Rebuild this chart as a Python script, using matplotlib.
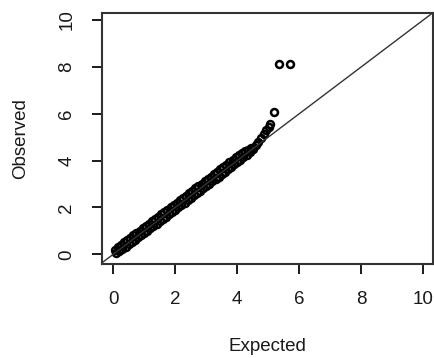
import matplotlib
matplotlib.use('Agg')
import matplotlib.pyplot as plt

# Q-Q plot of observed vs expected -log10(p)
expected = [
    0.05, 0.10, 0.15, 0.20, 0.25, 0.30, 0.35, 0.40, 0.45, 0.50,
    0.55, 0.60, 0.65, 0.70, 0.75, 0.80, 0.85, 0.90, 0.95, 1.00,
    1.05, 1.10, 1.15, 1.20, 1.25, 1.30, 1.35, 1.40, 1.45, 1.50,
    1.55, 1.60, 1.65, 1.70, 1.75, 1.80, 1.85, 1.90, 1.95, 2.00,
    2.05, 2.10, 2.15, 2.20, 2.25, 2.30, 2.35, 2.40, 2.45, 2.50,
    2.55, 2.60, 2.65, 2.70, 2.75, 2.80, 2.85, 2.90, 2.95, 3.00,
    3.05, 3.10, 3.15, 3.20, 3.25, 3.30, 3.35, 3.40, 3.45, 3.50,
    3.55, 3.60, 3.65, 3.70, 3.75, 3.80, 3.85, 3.90, 3.95, 4.00,
    4.05, 4.10, 4.15, 4.20, 4.25, 4.30, 4.35, 4.40, 4.45, 4.50,
    4.60, 4.68, 4.76, 4.85, 4.93, 5.02, 5.06, 5.17, 5.35, 5.71,
]
observed = [
    0.20, 0.06, 0.31, 0.15, 0.41, 0.24, 0.51, 0.33, 0.61, 0.43,
    0.71, 0.53, 0.81, 0.62, 0.91, 0.72, 1.01, 0.81, 1.11, 0.92,
    1.21, 1.01, 1.31, 1.11, 1.41, 1.21, 1.51, 1.31, 1.61, 1.41,
    1.71, 1.51, 1.81, 1.61, 1.91, 1.71, 2.01, 1.81, 2.11, 1.91,
    2.21, 2.01, 2.31, 2.11, 2.41, 2.21, 2.51, 2.31, 2.61, 2.41,
    2.71, 2.52, 2.81, 2.62, 2.91, 2.72, 3.01, 2.82, 3.11, 2.92,
    3.22, 3.02, 3.32, 3.12, 3.42, 3.22, 3.52, 3.32, 3.62, 3.43,
    3.72, 3.53, 3.82, 3.63, 3.93, 3.73, 4.03, 3.84, 4.14, 3.94,
    4.24, 4.04, 4.33, 4.14, 4.41, 4.24, 4.47, 4.35, 4.54, 4.48,
    4.68, 4.80, 4.95, 5.12, 5.30, 5.45, 5.57, 6.06, 8.13, 8.13,
]
ticks = [0, 2, 4, 6, 8, 10]

plt.rcParams['font.family'] = ['Liberation Sans', 'DejaVu Sans']
ink = '#1a1a1a'

fig = plt.figure(figsize=(4.34, 3.58), dpi=100)
ax = fig.add_axes([0.235, 0.262, 0.762, 0.702])

ax.plot(expected, observed, linestyle='none', marker='o', markersize=5.0,
        markerfacecolor='none', markeredgecolor='black', markeredgewidth=1.8)
ax.plot([-1, 11], [-1, 11], color='#333333', linewidth=1.0)

ax.set_xlim(-0.36, 10.3)
ax.set_ylim(-0.42, 10.3)
ax.set_xticks(ticks)
ax.set_yticks(ticks)
ax.set_xticklabels([str(t) for t in ticks], fontsize=13.5, color=ink)
ax.set_yticklabels([str(t) for t in ticks], fontsize=13.5, color=ink,
                   rotation=90, va='center')
ax.tick_params(direction='out', length=7.2, width=1.4, colors=ink, pad=12)
for s in ax.spines.values():
    s.set_linewidth(1.5)
    s.set_color('#333333')

ax.set_xlabel('Expected', fontsize=13.5, color=ink, labelpad=22)
ax.set_ylabel('Observed', fontsize=13.5, color=ink, labelpad=21)

plt.savefig('out.png', dpi=100)
plt.close()
